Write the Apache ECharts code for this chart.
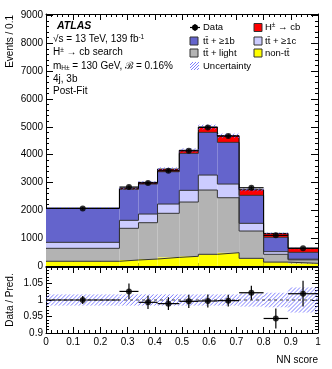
<!DOCTYPE html>
<html><head><meta charset="utf-8">
<script src="https://cdn.jsdelivr.net/npm/echarts@6/dist/echarts.min.js"></script>
<style>html,body{margin:0;padding:0;background:#fff}#c{width:332px;height:369px}</style>
</head><body><div id="c"></div>
<script>
// ---- data ----
const binEdges = [0, 0.27, 0.34, 0.41, 0.49, 0.56, 0.63, 0.71, 0.80, 0.89, 1.0];
const nonTT   = [170, 215, 250, 310, 348, 420, 478, 275, 140, 95];
const ttLight = [465, 1138, 1305, 1582, 1949, 2308, 1974, 981, 280, 125];
const ttC     = [215, 287, 311, 333, 420, 538, 491, 276, 95, 25];
const ttB     = [1215, 1113, 1077, 1160, 1328, 1533, 1497, 1006, 515, 245];
const hplus   = [15, 40, 60, 95, 110, 190, 237, 200, 140, 150];
const dataVals = [2065, 2835, 2979, 3421, 4138, 4978, 4666, 2810, 1101, 635];
const dataErr  = [45, 53, 55, 59, 64, 71, 68, 53, 33, 25];
const ratioVals = [1.0, 1.026, 0.993, 0.989, 0.996, 0.997, 0.998, 1.022, 0.944, 1.019];
const ratioErr  = [0.012, 0.024, 0.020, 0.019, 0.020, 0.020, 0.018, 0.021, 0.030, 0.039];
const uncBand   = [0.017, 0.017, 0.017, 0.017, 0.017, 0.017, 0.017, 0.020, 0.022, 0.038];
const xTicks = [0, 0.1, 0.2, 0.3, 0.4, 0.5, 0.6, 0.7, 0.8, 0.9, 1];

const FONT = '"Liberation Sans", Arial, sans-serif';
const C_B = '#6464cc', C_C = '#ccccff', C_L = '#b3b3b3', C_Y = '#ffff00', C_H = '#ff0000';
const HATCH = '#6f6fff';

// diagonal "/" hatch lines inside a pixel rectangle
function hatchLines(x0, y0, w, h, step) {
  const out = [];
  const start = ((Math.round(x0 + y0) % step) + step) % step; // keep pattern aligned to page
  for (let c = step - start; c < w + h; c += step) {
    const a = Math.max(0, c - h), b = Math.min(w, c);
    if (b <= a) continue;
    out.push({ type: 'line', silent: true,
      shape: { x1: x0 + a, y1: y0 + c - a, x2: x0 + b, y2: y0 + c - b },
      style: { stroke: HATCH, lineWidth: 0.9 } });
  }
  return out;
}

// cumulative stack levels
const comps = [nonTT, ttLight, ttC, ttB, hplus];
const levels = [new Array(10).fill(0)];
comps.forEach((arr, k) => levels.push(arr.map((v, i) => levels[k][i] + v)));
const total = levels[5];

function rectSeries(lows, highs, fill, xi, yi, z) {
  return {
    type: 'custom', xAxisIndex: xi, yAxisIndex: yi, clip: true, silent: true, z: z || 2,
    data: lows.map((l, i) => [binEdges[i], binEdges[i + 1], l, highs[i]]),
    encode: { x: [0, 1], y: [2, 3] },
    renderItem: (params, api) => {
      const p0 = api.coord([api.value(0), api.value(3)]);
      const p1 = api.coord([api.value(1), api.value(2)]);
      const x = p0[0], y = p0[1], w = p1[0] - p0[0], h = p1[1] - p0[1];
      if (fill === 'hatch') return { type: 'group', children: hatchLines(x, y, w, h, 4) };
      return { type: 'rect', shape: { x: x, y: y, width: w, height: h }, style: { fill: fill } };
    }
  };
}
function stepSeries(tops, color, z) {
  const pts = tops.map((t, i) => [binEdges[i], t]);
  pts.push([binEdges[10], tops[9]]);
  return { type: 'line', xAxisIndex: 0, yAxisIndex: 0, step: 'end', data: pts, symbol: 'none', silent: true,
    lineStyle: { color: color, width: 1 }, z: z || 3 };
}
function errSeries(vals, errs, xi, yi) {
  return {
    type: 'custom', xAxisIndex: xi, yAxisIndex: yi, clip: false, silent: true, z: 6,
    data: vals.map((v, i) => [binEdges[i], binEdges[i + 1], (binEdges[i] + binEdges[i + 1]) / 2, v, errs[i]]),
    encode: { x: [0, 1], y: 3 },
    renderItem: (params, api) => {
      const y = api.value(3), e = api.value(4), xc = api.value(2);
      const a = api.coord([api.value(0), y]), b = api.coord([api.value(1), y]);
      const c = api.coord([xc, y + e]), d = api.coord([xc, y - e]);
      const st = { stroke: '#000', lineWidth: 1.2 };
      return { type: 'group', children: [
        { type: 'line', shape: { x1: a[0], y1: a[1], x2: b[0], y2: b[1] }, style: st },
        { type: 'line', shape: { x1: c[0], y1: c[1], x2: d[0], y2: d[1] }, style: st }
      ] };
    }
  };
}
function pointSeries(vals, xi, yi) {
  return { type: 'scatter', xAxisIndex: xi, yAxisIndex: yi, symbol: 'circle', symbolSize: 6, silent: true, z: 7,
    itemStyle: { color: '#000' },
    data: vals.map((v, i) => [(binEdges[i] + binEdges[i + 1]) / 2, v]) };
}

const tickCommon = { inside: true, length: 6, lineStyle: { color: '#000', width: 1 } };
const minorCommon = { show: true, length: 3, splitNumber: 5, lineStyle: { color: '#000', width: 1 } };
const lineCommon = { show: true, onZero: false, lineStyle: { color: '#000', width: 1 } };
function xAx(grid, pos, labels) {
  return { type: 'value', gridIndex: grid, position: pos, min: 0, max: 1, interval: 0.1,
    axisLine: lineCommon, axisTick: tickCommon, minorTick: minorCommon, splitLine: { show: false },
    axisLabel: labels ? { show: true, margin: 4, fontFamily: FONT, fontSize: 10, color: '#000',
      formatter: v => { const s = +v.toFixed(1); return xTicks.indexOf(s) >= 0 ? String(s) : ''; } } : { show: false } };
}
function yMain(pos, labels) {
  return { type: 'value', gridIndex: 0, position: pos, min: 0, max: 9050, interval: 1000,
    axisLine: lineCommon, axisTick: Object.assign({}, tickCommon, { length: 7 }), minorTick: minorCommon, splitLine: { show: false },
    axisLabel: labels ? { show: true, margin: 3, fontFamily: FONT, fontSize: 10, color: '#000', showMaxLabel: false,
      formatter: v => (v % 1000 === 0 ? String(v) : '') } : { show: false } };
}
function yRatio(pos, labels) {
  return { type: 'value', gridIndex: 1, position: pos, min: 0.9, max: 1.1, interval: 0.05,
    axisLine: lineCommon, axisTick: tickCommon, minorTick: minorCommon, splitLine: { show: false },
    axisLabel: labels ? { show: true, margin: 3, fontFamily: FONT, fontSize: 10, color: '#000', showMaxLabel: false,
      formatter: v => { const s = +v.toFixed(2); return s > 1.06 ? '' : String(s); } } : { show: false } };
}

const series = [];
for (let k = 0; k < 5; k++) series.push(rectSeries(levels[k], levels[k + 1], [C_Y, C_L, C_C, C_B, C_H][k], 0, 0, 2));
for (let k = 1; k < 5; k++) series.push(stepSeries(levels[k], '#333'));
series.push(stepSeries(total, '#000', 4));
series.push(rectSeries(total.map((t, i) => t * (1 - uncBand[i])), total.map((t, i) => t * (1 + uncBand[i])), 'hatch', 0, 0, 5));
series.push(errSeries(dataVals, dataErr, 0, 0));
series.push(pointSeries(dataVals, 0, 0));
// ratio panel
series.push(rectSeries(uncBand.map(u => 1 - u), uncBand.map(u => 1 + u), 'hatch', 2, 2, 2));
series.push({ type: 'line', xAxisIndex: 2, yAxisIndex: 2, data: [[0, 1], [1, 1]], symbol: 'none', silent: true,
  lineStyle: { color: '#444', width: 1, type: [3, 3] }, z: 3 });
series.push(errSeries(ratioVals, ratioErr, 2, 2));
series.push(pointSeries(ratioVals, 2, 2));

const T = (x, y, text, extra) => Object.assign({ type: 'text', x: x, y: y, silent: true, z: 100,
  style: Object.assign({ text: text, fontFamily: FONT, fontSize: 10, fill: '#000', verticalAlign: 'middle' }, extra || {}) });
const richBase = {
  n: { fontFamily: FONT, fontSize: 10, lineHeight: 12, verticalAlign: 'middle' },
  sup: { fontFamily: FONT, fontSize: 6.5, lineHeight: 12, verticalAlign: 'top' },
  sub: { fontFamily: FONT, fontSize: 6.5, lineHeight: 12, verticalAlign: 'bottom' },
  ln: { fontFamily: FONT, fontSize: 9.5, lineHeight: 12, verticalAlign: 'middle' },
  lsup: { fontFamily: FONT, fontSize: 6.5, lineHeight: 11, verticalAlign: 'top' }
};
const box = (x, y, fill, stroke) => ({ type: 'rect', silent: true, z: 100,
  shape: { x: x, y: y - 4, width: 8, height: 8 }, style: { fill: fill, stroke: stroke || '#333', lineWidth: 1 } });

const graphic = [
  T(57, 26, 'ATLAS', { fontWeight: 'bold', fontStyle: 'italic', fontSize: 10.5 }),
  T(53, 39.5, '{n|√s = 13 TeV, 139 fb}{sup|-1}', { rich: richBase }),
  T(53, 52.5, '{n|H}{sup|±}{n| → cb search}', { rich: richBase }),
  T(53, 66, '{n|m}{sub|H±}{n| = 130 GeV, ℬ = 0.16%}', { rich: richBase }),
  T(53, 79, '4j, 3b'),
  T(53, 91, 'Post-Fit'),
  // legend
  { type: 'line', silent: true, z: 100, shape: { x1: 190, y1: 27.5, x2: 200, y2: 27.5 }, style: { stroke: '#000', lineWidth: 1.2 } },
  { type: 'line', silent: true, z: 100, shape: { x1: 195, y1: 24, x2: 195, y2: 31 }, style: { stroke: '#000', lineWidth: 1.2 } },
  { type: 'circle', silent: true, z: 101, shape: { cx: 195, cy: 27.5, r: 3 }, style: { fill: '#000' } },
  T(203, 27.5, 'Data', { fontSize: 9.5 }),
  box(254, 27.5, C_H),
  T(265, 27.5, '{ln|H}{lsup|±}{ln| → cb}', { rich: richBase }),
  box(190, 41, C_B),
  T(203, 41, 'tt\u0304 + ≥1b', { fontSize: 9.5 }),
  box(254, 41, C_C),
  T(265, 41, 'tt\u0304 + ≥1c', { fontSize: 9.5 }),
  box(190, 53, C_L),
  T(203, 53, 'tt\u0304 + light', { fontSize: 9.5 }),
  box(254, 53, C_Y),
  T(265, 53, 'non-tt\u0304', { fontSize: 9.5 }),
  { type: 'group', silent: true, z: 100, children: hatchLines(190, 62, 9, 8, 3) },
  T(203, 66, 'Uncertainty', { fontSize: 9.5 }),
  // axis titles
  { type: 'text', silent: true, z: 100, x: 10, y: 15, rotation: Math.PI / 2,
    style: { text: 'Events / 0.1', fontFamily: FONT, fontSize: 10, fill: '#000', align: 'right', verticalAlign: 'middle' } },
  { type: 'text', silent: true, z: 100, x: 10, y: 300, rotation: Math.PI / 2,
    style: { text: 'Data / Pred.', fontFamily: FONT, fontSize: 10, fill: '#000', align: 'center', verticalAlign: 'middle' } },
  T(318, 360, 'NN score', { align: 'right' })
];

const chart = echarts.init(document.getElementById('c'), null, { renderer: 'canvas' });
chart.setOption({
  animation: false,
  backgroundColor: '#fff',
  grid: [
    { left: 46, right: 14, top: 14, height: 252 },
    { left: 46, right: 14, top: 267, height: 66 }
  ],
  xAxis: [xAx(0, 'bottom', false), xAx(0, 'top', false), xAx(1, 'bottom', true), xAx(1, 'top', false)],
  yAxis: [yMain('left', true), yMain('right', false), yRatio('left', true), yRatio('right', false)],
  series: series,
  graphic: graphic
});
</script>
</body></html>
